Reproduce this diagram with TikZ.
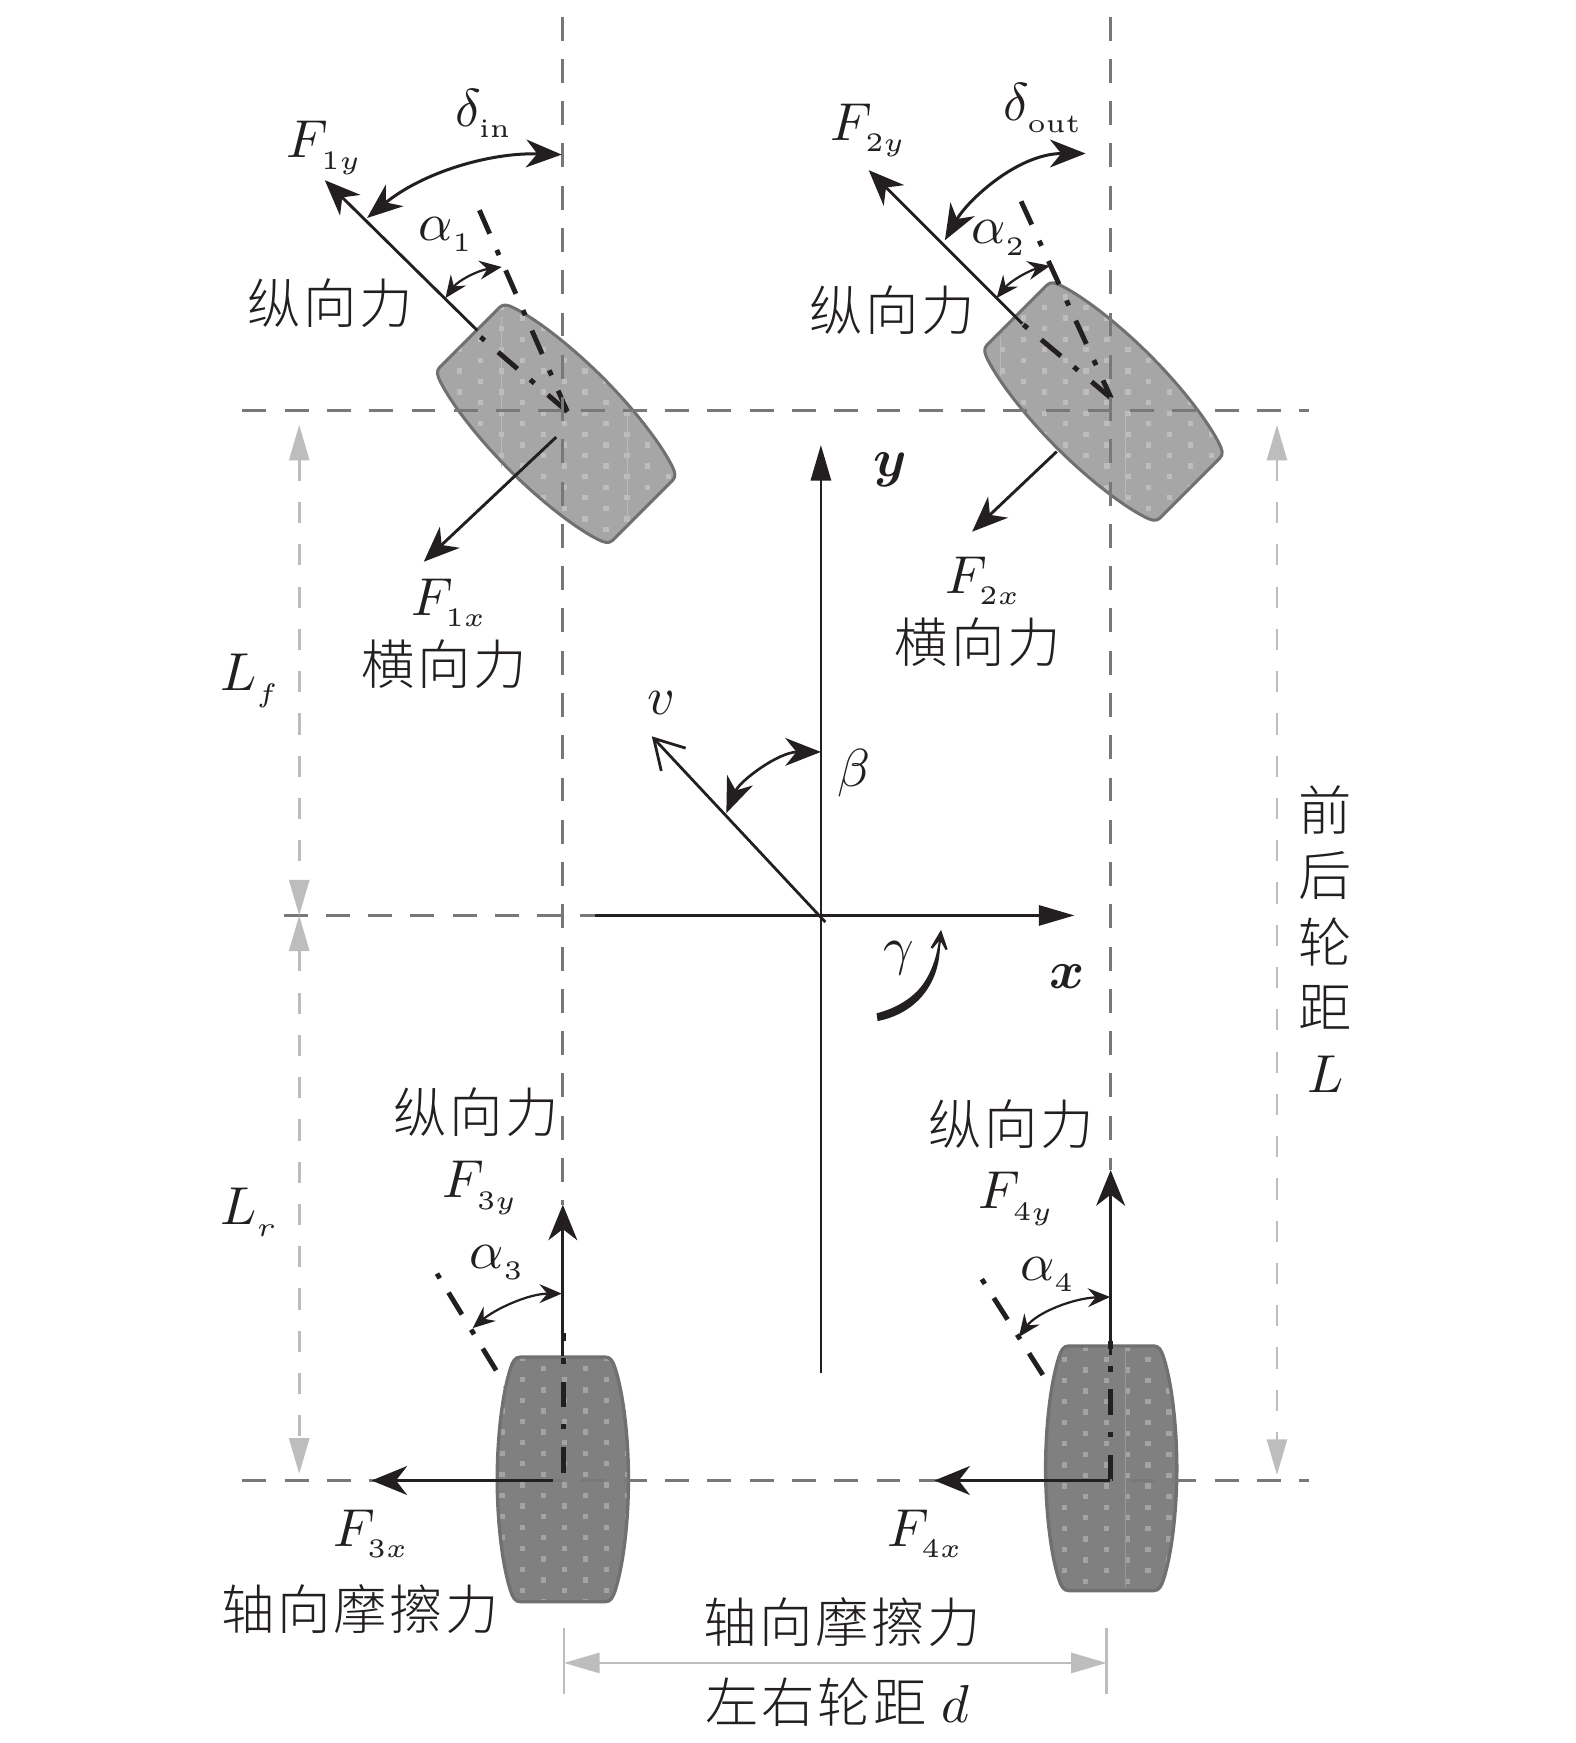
\documentclass[tikz,border=0pt]{standalone}
\usepackage{bm}
\usepackage{fontspec}
\DeclareMathSizes{10}{10}{5}{5}
\makeatletter
\AtBeginDocument{\normalsize\check@mathfonts\fontdimen16\textfont2=2.15pt\fontdimen17\textfont2=2.15pt}
\makeatother
\newfontfamily\cjk[LetterSpace=5]{Noto Sans CJK SC Light}
\usetikzlibrary{arrows.meta}
\definecolor{ink}{HTML}{231F20}
\definecolor{midgray}{HTML}{787878}
\definecolor{lightgray}{HTML}{BDBDBD}
\definecolor{wheelline}{HTML}{707070}
\tikzset{
  lab/.style={font=\normalsize,scale=2.4,text=ink,inner sep=0pt,anchor=center},
  cjklab/.style={lab,font=\normalsize\cjk},
  grayline/.style={draw=midgray,line width=1.25pt,dash pattern=on 10.75pt off 8.25pt},
  dimline/.style={draw=lightgray,line width=1.25pt,dash pattern=on 9.5pt off 9.5pt,{Triangle[length=16pt,width=9pt,fill=lightgray]}-{Triangle[length=16pt,width=9pt,fill=lightgray]}},
  dimsolid/.style={draw=lightgray,line width=1.25pt},
  force/.style={draw=ink,line width=1.3pt,-{Stealth[length=16pt,width=13pt,inset=5pt]}},
  axisline/.style={draw=ink,line width=1.25pt,-{Triangle[length=16pt,width=9pt]}},
  deltaarc/.style={draw=ink,line width=1.35pt,{Stealth[length=16pt,width=12.5pt,inset=5pt]}-{Stealth[length=16pt,width=12.5pt,inset=5pt]}},
  alphaarc/.style={draw=ink,line width=1pt,{Stealth[length=10pt,width=8.5pt,inset=3.5pt]}-{Stealth[length=10pt,width=8.5pt,inset=3.5pt]}},
  dashdotline/.style={draw=ink,line width=2.2pt,dash pattern=on 11.5pt off 8pt on 2.5pt off 7.5pt},
  dotdashline/.style={draw=ink,line width=2.2pt,dash pattern=on 2.5pt off 7.5pt on 11.5pt off 8pt},
}
\newcommand{\wheelpath}{(-38,-110) -- (38,-110) .. controls (43,-110) and (45,-106) .. (47,-100) .. controls (55,-75) and (59,-35) .. (59,0) .. controls (59,35) and (55,75) .. (47,100) .. controls (45,106) and (43,110) .. (38,110) -- (-38,110) .. controls (-43,110) and (-45,106) .. (-47,100) .. controls (-55,75) and (-59,35) .. (-59,0) .. controls (-59,-35) and (-55,-75) .. (-47,-100) .. controls (-45,-106) and (-43,-110) .. (-38,-110) -- cycle}
% centre x, centre y, rotation, fill, dot colour, dot origin x, dot origin y
\newcommand{\wheeldraw}[7]{%
  \fill[#4,shift={(#1,#2)},rotate=#3] \wheelpath;
  \begin{scope}
    \path[clip,shift={(#1,#2)},rotate=#3] \wheelpath;
    \foreach \i in {-12,...,12}{
      \pgfmathsetmacro{\dotoff}{mod(abs(\i),2)*9.5}
      \foreach \j in {-12,...,12}{
        \pgfmathsetmacro{\dotx}{#6+\i*18.8}
        \pgfmathsetmacro{\doty}{#7+\j*19+\dotoff}
        \fill[#5] (\dotx-2.4,\doty-2.4) rectangle (\dotx+2.4,\doty+2.4);
      }
    }
  \end{scope}
}
\begin{document}
\begin{tikzpicture}[x=0.5pt,y=-0.5pt]
\useasboundingbox[fill=white] (0,0) rectangle (1416,1567);

% coordinates
\coordinate (c1) at (510,370);
\coordinate (c2) at (999,358);
\coordinate (c3) at (506.5,1324);
\coordinate (c4) at (998.5,1331);
\coordinate (c3a) at (506,1330);
\coordinate (c4a) at (998,1331);
\coordinate (a1top) at (431,189);
\coordinate (b1top) at (432,303);
\coordinate (a2top) at (918,181);
\coordinate (b2top) at (919,291);
\coordinate (a3top) at (392.8,1145);
\coordinate (b3top) at (506.5,1198);
\coordinate (a4top) at (882.7,1150);
\coordinate (b4top) at (998.5,1206);

% rear wheel-angle lines pass under the wheels
\draw[dotdashline] (a3top) -- (c3a);
\draw[dotdashline] (a4top) -- (c4a);

% wheels
\wheeldraw{500}{381}{45}{black!35}{black!26}{432}{324}
\wheeldraw{992}{361}{45}{black!35}{black!26}{920}{324}
\wheeldraw{506}{1330}{0}{black!50}{black!36}{470}{1221}
\wheeldraw{999}{1320}{0}{black!50}{black!36}{957}{1222}

% faint seams
\draw[black!27,line width=0.4pt] (451,285) -- (451,420) (564,372) -- (564,466) (899,303) -- (899,338) (1012,373) -- (1012,454);
\draw[black!40,line width=0.4pt] (1012,1212) -- (1012,1428);

% wheel outlines
\draw[wheelline,line width=1.35pt,shift={(500,381)},rotate=45] \wheelpath;
\draw[wheelline,line width=1.35pt,shift={(992,361)},rotate=45] \wheelpath;
\draw[wheelline,line width=1.5pt,shift={(506,1330)}] \wheelpath;
\draw[wheelline,line width=1.5pt,shift={(999,1320)}] \wheelpath;

% dash-dot axes over the wheels
\draw[dashdotline] (a1top) -- (c1);
\draw[dashdotline] (c1) -- (b1top);
\draw[dashdotline] (a2top) -- (c2);
\draw[dashdotline] (c2) -- (b2top);
\draw[dashdotline] (c3) -- (b3top);
\draw[dashdotline] (c4) -- (b4top);

% gray reference lines
\coordinate (v1a) at (506,15);   \coordinate (v1b) at (506,1083);
\coordinate (v2a) at (998,15);   \coordinate (v2b) at (998,1052);
\coordinate (h1a) at (218,369);  \coordinate (h1b) at (1177,369);
\coordinate (h2a) at (218,1331); \coordinate (h2b) at (1177,1331);
\coordinate (h3a) at (255,823);  \coordinate (h3b) at (535,823);
\draw[grayline] (v1a) -- (v1b);
\draw[grayline] (v2a) -- (v2b);
\draw[grayline] (h1a) -- (h1b);
\draw[grayline] (h2a) -- (h2b);
\draw[grayline] (h3a) -- (h3b);

% dimension lines
\coordinate (lft) at (269,382); \coordinate (lfb) at (269,823);
\coordinate (lrt) at (269,823); \coordinate (lrb) at (269,1325);
\coordinate (rt) at (1148,382); \coordinate (rb) at (1148,1326);
\draw[dimline] (lft) -- (lfb);
\draw[dimline] (lrt) -- (lrb);
\draw[dimline] (rt) -- (rb);
\coordinate (d1a) at (507,1464); \coordinate (d1b) at (507,1523);
\coordinate (d2a) at (995,1464); \coordinate (d2b) at (995,1523);
\coordinate (dl) at (507,1495);  \coordinate (dr) at (995,1495);
\draw[dimsolid] (d1a) -- (d1b);
\draw[dimsolid] (d2a) -- (d2b);
\draw[dimsolid,{Triangle[length=16pt,width=9pt,fill=lightgray]}-{Triangle[length=16pt,width=9pt,fill=lightgray]}] (dl) -- (dr);

% body axes
\coordinate (o) at (738,823);
\coordinate (ybase) at (738,1234); \coordinate (ytip) at (738,400);
\coordinate (xtip) at (966,823);
\draw[axisline] (ybase) -- (ytip);
\draw[axisline] (h3b) -- (xtip);
\coordinate (vbase) at (742,829); \coordinate (vtip) at (586,662);
\draw[draw=ink,line width=1.25pt,-{Straight Barb[length=13pt,width=15pt]}] (vbase) -- (vtip);

% forces
\coordinate (f1ys) at (429,297); \coordinate (f1ye) at (292,162);
\coordinate (f1xs) at (500,393); \coordinate (f1xe) at (381,505);
\coordinate (f2ys) at (919,291); \coordinate (f2ye) at (781,153);
\coordinate (f2xs) at (950,406); \coordinate (f2xe) at (874,478);
\coordinate (f3ys) at (506,1219); \coordinate (f3ye) at (506,1083);
\coordinate (f3xs) at (497,1331); \coordinate (f3xe) at (334,1331);
\coordinate (f4ys) at (998.5,1218); \coordinate (f4ye) at (998.5,1052);
\coordinate (f4xs) at (998,1331); \coordinate (f4xe) at (840,1331);
\draw[force] (f1ys) -- (f1ye);
\draw[force] (f1xs) -- (f1xe);
\draw[force] (f2ys) -- (f2ye);
\draw[force] (f2xs) -- (f2xe);
\draw[force] (f3ys) -- (f3ye);
\draw[force] (f3xs) -- (f3xe);
\draw[force] (f4ys) -- (f4ye);
\draw[force] (f4xs) -- (f4xe);

% angle arcs
\coordinate (di1) at (330,196); \coordinate (di2) at (505,139);
\coordinate (do1) at (849.5,216); \coordinate (do2) at (976,138);
\coordinate (al1a) at (400.5,268); \coordinate (al1b) at (451,240);
\coordinate (al2a) at (896,268); \coordinate (al2b) at (944,239);
\coordinate (al3a) at (425,1194); \coordinate (al3b) at (505,1163);
\coordinate (al4a) at (916,1202); \coordinate (al4b) at (998,1166);
\coordinate (be1) at (653,731); \coordinate (be2) at (738,676);
\coordinate (ga1) at (789,914); \coordinate (ga2) at (846,836);
\draw[deltaarc] (di1) .. controls (380,155) and (440,137) .. (di2);
\draw[deltaarc] (do1) .. controls (870,180) and (915,138) .. (do2);
\draw[alphaarc] (al1a) .. controls (412,252) and (430,243) .. (al1b);
\draw[alphaarc] (al2a) .. controls (908,253) and (925,243) .. (al2b);
\draw[alphaarc] (al3a) .. controls (445,1177) and (475,1163) .. (al3b);
\draw[alphaarc] (al4a) .. controls (932,1180) and (965,1167) .. (al4b);
\draw[deltaarc,line width=1.2pt] (be1) .. controls (665,702) and (700,676) .. (be2);
\draw[draw=ink,line width=1pt,-{Stealth[length=13.5pt,width=12.5pt,inset=9pt]}] (ga1) .. controls (825,905) and (842,875) .. (ga2);
\fill[ink] (788,911) .. controls (823,902) and (840,878) .. (845,850) .. controls (845,880) and (828,910) .. (789,918) -- cycle;

% labels
\node[lab] (tdin) at (435,102) {$\delta_{\mathrm{in}}$};
\node[lab] (tdout) at (938,97) {$\delta_{\mathrm{out}}$};
\node[lab] (tf1y) at (292,133) {$F_{1y}$};
\node[lab] (tf2y) at (781,117) {$F_{2y}$};
\node[lab] (tf1x) at (404,542) {$F_{1x}$};
\node[lab] (tf2x) at (884,522) {$F_{2x}$};
\node[lab] (tf3y) at (432,1068) {$F_{3y}$};
\node[lab] (tf4y) at (914,1078) {$F_{4y}$};
\node[lab] (tf3x) at (334,1379) {$F_{3x}$};
\node[lab] (tf4x) at (832,1379) {$F_{4x}$};
\node[lab] (ta1) at (401,211) {$\alpha_1$};
\node[lab] (ta2) at (898,214) {$\alpha_2$};
\node[lab] (ta3) at (447,1135) {$\alpha_3$};
\node[lab] (ta4) at (942,1146) {$\alpha_4$};
\node[lab] (ty) at (800,422) {$\bm{y}$};
\node[lab] (tx) at (959,878) {$\bm{x}$};
\node[lab] (tv) at (595,632) {$v$};
\node[lab] (tb) at (768,695) {$\beta$};
\node[lab] (tg) at (808,861) {$\gamma$};
\node[lab] (tlf) at (225,612) {$L_f$};
\node[lab] (tlr) at (224,1090) {$L_r$};
\node[cjklab] (tz1) at (297,273) {纵向力};
\node[cjklab] (tz2) at (802,279) {纵向力};
\node[cjklab] (tz3) at (428,1000) {纵向力};
\node[cjklab] (tz4) at (909,1011) {纵向力};
\node[cjklab] (th1) at (399,597) {横向力};
\node[cjklab] (th2) at (879,577) {横向力};
\node[cjklab] (tm1) at (324,1447) {轴向摩擦力};
\node[cjklab] (tm2) at (757,1458) {轴向摩擦力};
\node[cjklab] (tw) at (753,1530) {左右轮距\ $d$};
\node[cjklab] (tq1) at (1191,728) {前};
\node[cjklab] (tq2) at (1191,787) {后};
\node[cjklab] (tq3) at (1191,847) {轮};
\node[cjklab] (tq4) at (1191,906) {距};
\node[lab] (tq5) at (1192,966) {$L$};
\end{tikzpicture}
\end{document}
